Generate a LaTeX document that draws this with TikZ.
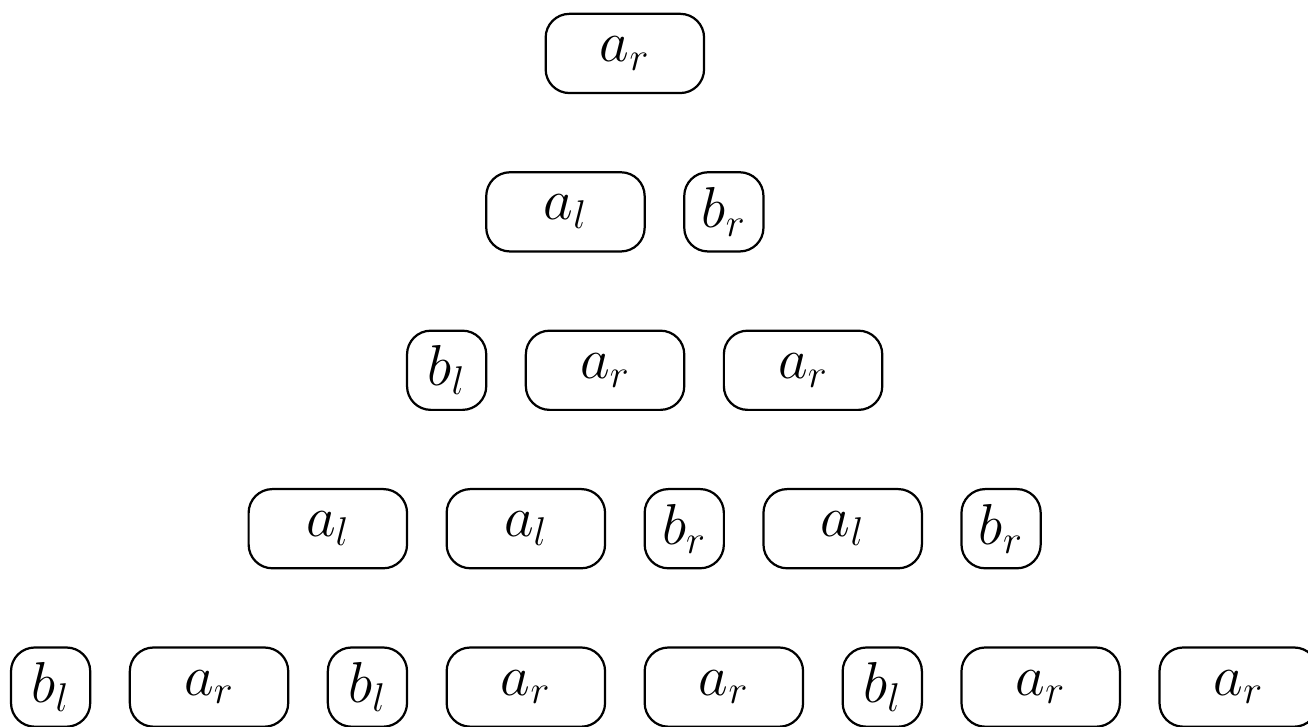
\documentclass[tikz,border=0pt]{standalone}
\usepackage{amsmath,amssymb}
\usepackage{tikz}

\begin{document}
\begin{tikzpicture}[font=\huge, line width=0.8pt,
  wide/.style={draw,rounded corners=3mm,minimum width=2cm,minimum height=1cm,inner sep=0pt},
  narrow/.style={draw,rounded corners=3mm,minimum width=1cm,minimum height=1cm,inner sep=0pt}]
  \useasboundingbox (-0.139,-0.492) rectangle (16.375,8.675);
% --- row 1 ---
  \node[wide] (t1) at (7.75,8) {$a_r$\hspace{1.2mm}};
% --- row 2 ---
  \node[wide]   (s1) at (7,6) {$a_l$};
  \node[narrow] (s2) at (9,6) {$b_r$};
% --- row 3 ---
  \node[narrow] (u1) at (5.5,4) {$b_l$};
  \node[wide]   (u2) at (7.5,4) {$a_r$};
  \node[wide]   (u3) at (10,4) {$a_r$};
% --- row 4 ---
  \node[wide]   (v1) at (4,2) {$a_l$};
  \node[wide]   (v2) at (6.5,2) {\raisebox{1.2mm}{$a_l$}\hspace{2mm}};
  \node[narrow] (v3) at (8.5,2) {$b_r$};
  \node[wide]   (v4) at (10.5,2) {$a_l$};
  \node[narrow] (v5) at (12.5,2) {$b_r$};
% --- row 5 ---
  \node[narrow] (w1) at (0.5,0) {$b_l$};
  \node[wide]   (w2) at (2.5,0) {$a_r$};
  \node[narrow] (w3) at (4.5,0) {$b_l$};
  \node[wide]   (w4) at (6.5,0) {$a_r$};
  \node[wide]   (w5) at (9,0) {$a_r$};
  \node[narrow] (w6) at (11,0) {$b_l$};
  \node[wide]   (w7) at (13,0) {$a_r$};
  \node[wide]   (w8) at (15.5,0) {$a_r$};
\end{tikzpicture}
\end{document}
